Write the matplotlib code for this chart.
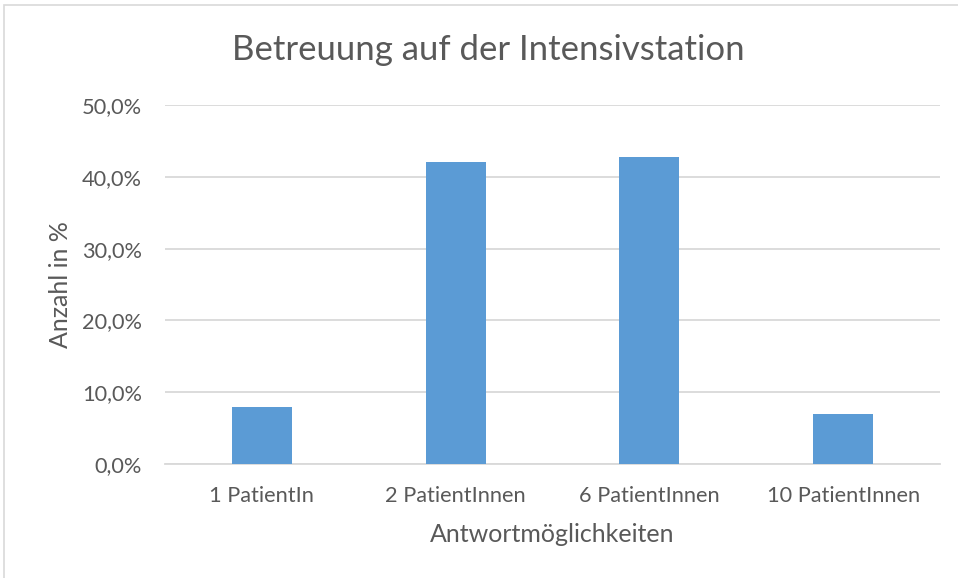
import matplotlib
matplotlib.use("Agg")
import matplotlib.pyplot as plt
from matplotlib.ticker import FuncFormatter
from matplotlib.patches import Rectangle

categories = ["1 PatientIn", "2 PatientInnen", "6 PatientInnen", "10 PatientInnen"]
values = [7.9, 42.1, 42.8, 7.0]
yticks = [0, 10, 20, 30, 40, 50]

plt.rcParams['font.family'] = ['Lato', 'DejaVu Sans']
txt = '#595959'

fig = plt.figure(figsize=(9.58, 5.78), dpi=100)
W, H = 958, 578
ax = fig.add_axes([165 / W, 1 - 464 / H, (940 - 165) / W, (464 - 105) / H])

x = list(range(len(categories)))
ax.bar(x, values, width=0.31, color='#5b9bd5', zorder=3)
ax.set_xlim(-0.5, len(categories) - 0.5)
ax.set_ylim(0, 50)
ax.set_yticks(yticks)
ax.yaxis.set_major_formatter(FuncFormatter(lambda v, p: f"{v:.1f}%".replace('.', ',')))
ax.set_xticks(x)
ax.set_xticklabels(categories)
ax.grid(axis='y', color='#d9d9d9', linewidth=1.3, zorder=0)
for s in ['top', 'right', 'left']:
    ax.spines[s].set_visible(False)
ax.spines['bottom'].set_color('#d9d9d9')
ax.spines['bottom'].set_linewidth(1.3)
ax.tick_params(axis='both', length=0, labelsize=15.7, labelcolor=txt)
ax.tick_params(axis='x', pad=16)
ax.tick_params(axis='y', pad=16.5)

ax.set_xlabel("Antwortmöglichkeiten", fontsize=18, color=txt, labelpad=12)
ax.set_ylabel("Anzahl in %", fontsize=18, color=txt, labelpad=7)
fig.text(488 / W, 1 - 50 / H, "Betreuung auf der Intensivstation", fontsize=25,
         color=txt, ha='center', va='center')

fig.patches.append(Rectangle((4 / W, -0.1), 1.2, 1 - 5 / H + 0.1, transform=fig.transFigure,
                             fill=False, edgecolor='#d9d9d9', linewidth=1.2))

fig.savefig("out.png", dpi=100)
